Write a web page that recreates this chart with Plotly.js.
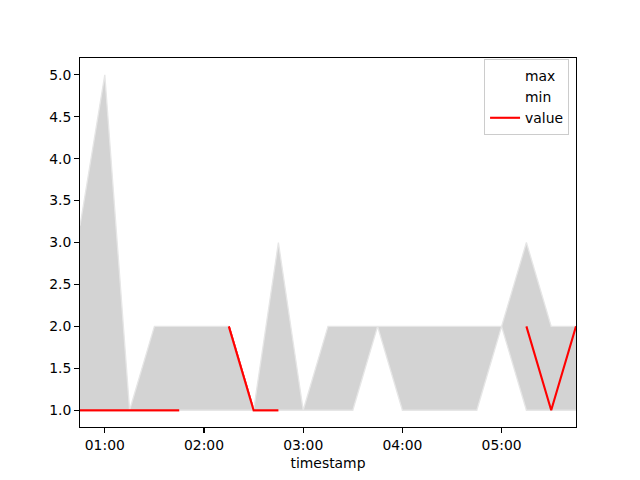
<!DOCTYPE html>
<html>
<head>
<meta charset="utf-8">
<script src="https://cdn.plot.ly/plotly-3.0.1.min.js"></script>
<style>html,body{margin:0;padding:0;background:#fff;}#chart{width:640px;height:480px;}</style>
</head>
<body>
<div id="chart"></div>
<script>
const timestamps = [
  "2021-01-01 00:45", "2021-01-01 01:00", "2021-01-01 01:15", "2021-01-01 01:30",
  "2021-01-01 01:45", "2021-01-01 02:00", "2021-01-01 02:15", "2021-01-01 02:30",
  "2021-01-01 02:45", "2021-01-01 03:00", "2021-01-01 03:15", "2021-01-01 03:30",
  "2021-01-01 03:45", "2021-01-01 04:00", "2021-01-01 04:15", "2021-01-01 04:30",
  "2021-01-01 04:45", "2021-01-01 05:00", "2021-01-01 05:15", "2021-01-01 05:30",
  "2021-01-01 05:45"
];
const maxValues = [3.2, 5, 1, 2, 2, 2, 2, 1, 3, 1, 2, 2, 2, 2, 2, 2, 2, 2, 3, 2, 2];
const minValues = [1, 1, 1, 1, 1, 1, 1, 1, 1, 1, 1, 1, 2, 1, 1, 1, 1, 2, 1, 1, 1];
const values = [1, 1, 1, 1, 1, null, 2, 1, 1, null, null, null, null, null, null, null, null, null, 2, 1, 2];
const yTicks = [1.0, 1.5, 2.0, 2.5, 3.0, 3.5, 4.0, 4.5, 5.0];

const font = {family: "DejaVu Sans", size: 13.9, color: "#000"};

const traces = [
  {x: timestamps, y: maxValues, mode: "lines", name: "max", line: {color: "#ffffff", width: 0.01}, showlegend: true},
  {x: timestamps, y: minValues, mode: "lines", name: "min", line: {color: "#ffffff", width: 0.01}, showlegend: true},
  {x: timestamps, y: values, mode: "lines", name: "value", line: {color: "#ff0000", width: 2.1}, connectgaps: false, showlegend: true},
  {x: timestamps, y: maxValues, mode: "lines", line: {color: "#e6e6e6", width: 1.3}, showlegend: false, hoverinfo: "skip"},
  {x: timestamps, y: minValues, mode: "lines", fill: "tonexty", fillcolor: "#d3d3d3", line: {color: "#e6e6e6", width: 1.3}, showlegend: false, hoverinfo: "skip"},
  {x: timestamps, y: values, mode: "lines", line: {color: "#ff0000", width: 2.1}, connectgaps: false, showlegend: false, hoverinfo: "skip"}
];

const layout = {
  width: 640, height: 480,
  margin: {l: 80, r: 64, t: 58, b: 53},
  paper_bgcolor: "#fff", plot_bgcolor: "#fff",
  font: font,
  showlegend: true,
  legend: {
    x: 0.986, y: 0.997, xanchor: "right", yanchor: "top",
    traceorder: "normal",
    bgcolor: "rgba(255,255,255,0.8)", bordercolor: "#cccccc", borderwidth: 1,
    font: font, tracegroupgap: 0, itemwidth: 30
  },
  xaxis: {
    type: "date",
    range: [timestamps[0], timestamps[timestamps.length - 1]],
    tick0: "2021-01-01 01:00", dtick: 3600000, tickformat: "%H:%M",
    showgrid: false, zeroline: false,
    showline: true, mirror: true, linecolor: "#000", linewidth: 1.1,
    ticks: "outside", ticklen: 4.9, tickwidth: 1.1, tickcolor: "#000",
    tickfont: font,
    title: {text: "timestamp", font: font, standoff: 6}
  },
  yaxis: {
    range: [0.8, 5.2],
    tickmode: "array", tickvals: yTicks, ticktext: yTicks.map(v => v.toFixed(1)),
    showgrid: false, zeroline: false,
    showline: true, mirror: true, linecolor: "#000", linewidth: 1.1,
    ticks: "outside", ticklen: 4.9, tickwidth: 1.1, tickcolor: "#000",
    tickfont: font
  }
};

Plotly.newPlot("chart", traces, layout, {displayModeBar: false, staticPlot: true});
</script>
</body>
</html>
